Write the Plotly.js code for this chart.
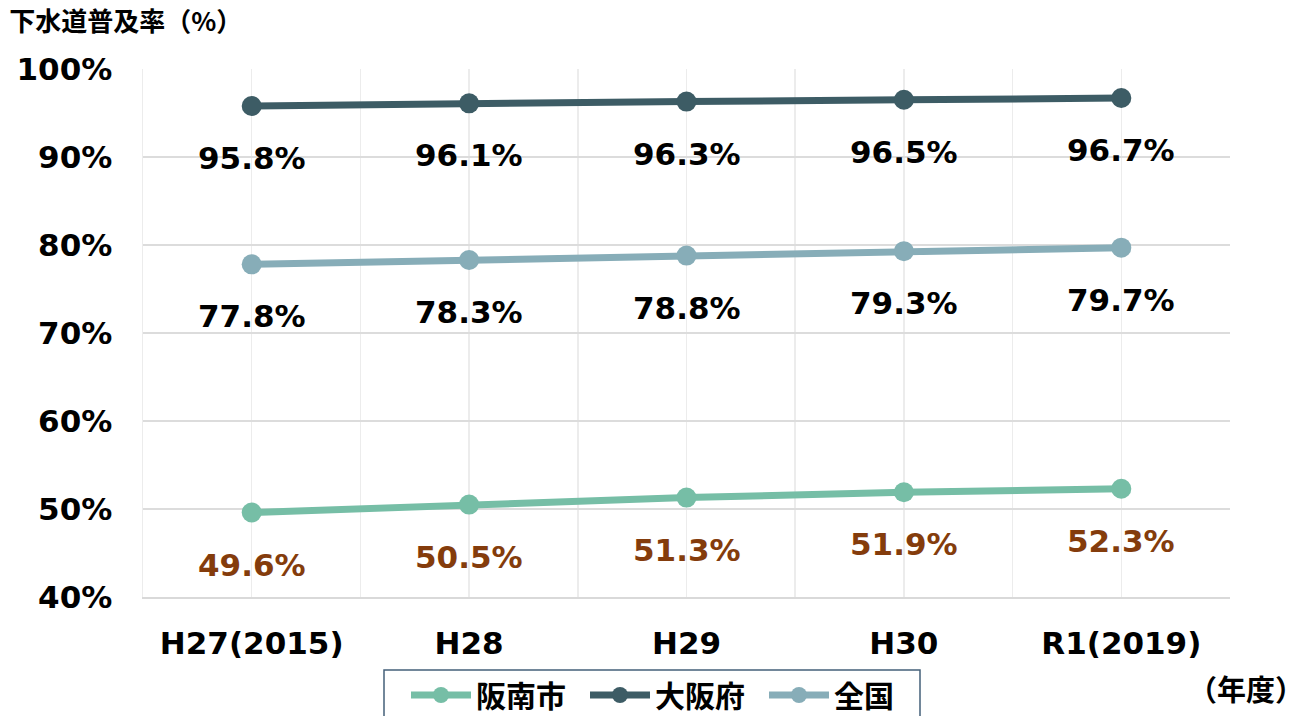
<!DOCTYPE html>
<html><head><meta charset="utf-8">
<script src="https://cdn.plot.ly/plotly-3.0.1.min.js"></script>
<style>html,body{margin:0;padding:0;background:#fff;}#chart{width:1304px;height:716px;}</style>
</head><body><div id="chart"></div>
<script>
const categories = ["H27(2015)", "H28", "H29", "H30", "R1(2019)"];
const hannan = [49.6, 50.5, 51.3, 51.9, 52.3];
const osaka = [95.8, 96.1, 96.3, 96.5, 96.7];
const zenkoku = [77.8, 78.3, 78.8, 79.3, 79.7];
const seriesNames = ["阪南市", "大阪府", "全国"];
const yTicks = [40, 50, 60, 70, 80, 90, 100];

const FONT = "DejaVu Sans, 'Noto Sans CJK JP', sans-serif";
const JFONT = "'Noto Sans CJK JP', 'DejaVu Sans', sans-serif";
const xs = categories.map((_, i) => i);
const colors = ["#76BEA6", "#3D5C65", "#87ADB8"];
const labelColors = ["#843C0C", "#000000", "#000000"];
const data = [hannan, osaka, zenkoku];

const traces = data.map((vals, k) => ({
  x: xs, y: vals, name: seriesNames[k], type: "scatter", mode: "lines+markers",
  line: {color: colors[k], width: 7},
  marker: {color: colors[k], size: 20},
  hoverinfo: "skip"
}));

const annotations = [];
data.forEach((vals, k) => {
  vals.forEach((v, i) => {
    annotations.push({
      x: xs[i], y: v, xref: "x", yref: "y", text: v.toFixed(1) + "%",
      showarrow: false, yshift: -52,
      font: {family: FONT, size: 31, color: labelColors[k], weight: "bold"}
    });
  });
});
annotations.push({
  xref: "paper", yref: "paper", x: (1306 - 143) / 1087, y: -(688 - 597) / 528,
  xanchor: "right", yanchor: "middle", text: "（年度）", showarrow: false,
  font: {family: JFONT, size: 29, color: "#000", weight: "bold"}
});

const PH = 528, PW = 1087;
const layout = {
  width: 1304, height: 716,
  margin: {l: 143, r: 74, t: 69, b: 119, autoexpand: false},
  paper_bgcolor: "#fff", plot_bgcolor: "#fff",
  showlegend: true,
  title: {
    text: "下水道普及率（%）", x: 0.007, xanchor: "left", xref: "container",
    y: 1 - 22 / 716, yanchor: "middle", yref: "container",
    font: {family: JFONT, size: 26, color: "#000", weight: "bold"}
  },
  xaxis: {
    range: [-0.5, 4.5], tickmode: "array", tickvals: xs, ticktext: categories,
    showgrid: true, gridcolor: "#ececec", gridwidth: 1.5,
    minor: {tickmode: "linear", tick0: 0.5, dtick: 1, showgrid: true, gridcolor: "#ececec", gridwidth: 1.5},
    zeroline: false, showline: true, linecolor: "#d9d9d9", linewidth: 2,
    ticks: "", ticklabelstandoff: 18, fixedrange: true,
    tickfont: {family: FONT, size: 31, color: "#000", weight: "bold"}
  },
  yaxis: {
    range: [40, 100], tickmode: "array", tickvals: yTicks, ticktext: yTicks.map(v => v + "%"),
    showgrid: true, gridcolor: "#dcdcdc", gridwidth: 1.5, zeroline: false,
    showline: true, linecolor: "#ececec", linewidth: 1.5, mirror: false,
    ticks: "", ticklabelstandoff: 23, fixedrange: true,
    tickfont: {family: FONT, size: 31, color: "#000", weight: "bold"}
  },
  legend: {
    orientation: "h", xref: "paper", yref: "paper",
    x: (406 - 143) / PW, xanchor: "left", y: -(669 - 597) / PH, yanchor: "top",
    borderwidth: 0, bgcolor: "rgba(0,0,0,0)",
    itemwidth: 60, traceorder: "normal", entrywidth: 104, entrywidthmode: "pixels",
    font: {family: JFONT, size: 30, color: "#000", weight: "bold"}
  },
  shapes: [{
    type: "rect", xref: "paper", yref: "paper", layer: "below",
    x0: (384 - 143) / PW, x1: (920 - 143) / PW,
    y0: -(670 - 597) / PH, y1: -(730 - 597) / PH,
    line: {color: "#44607a", width: 1.5}, fillcolor: "#fff"
  }],
  annotations: annotations
};

Plotly.newPlot("chart", traces, layout, {displayModeBar: false, staticPlot: true});
</script></body></html>
